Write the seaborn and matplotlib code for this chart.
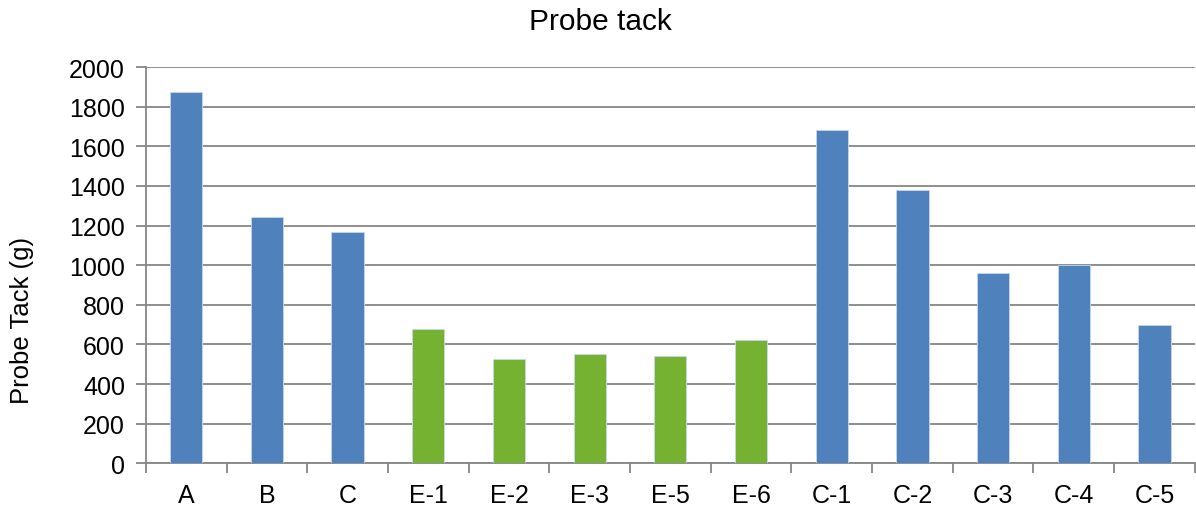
import matplotlib
matplotlib.use("Agg")
import matplotlib.pyplot as plt
import seaborn as sns
import pandas as pd
import numpy as np

categories = ["A", "B", "C", "E-1", "E-2", "E-3", "E-5", "E-6", "C-1", "C-2", "C-3", "C-4", "C-5"]
values = [1875, 1245, 1166, 677, 526, 552, 542, 622, 1680, 1379, 960, 1000, 698]
groups = ["base", "base", "base", "E", "E", "E", "E", "E", "base", "base", "base", "base", "base"]
palette = {"base": "#4F81BD", "E": "#75B232"}

df = pd.DataFrame({"cat": categories, "val": values, "grp": groups})

sns.set_theme(style="white")
plt.rcParams["font.family"] = ["Liberation Sans", "DejaVu Sans"]

fig = plt.figure(figsize=(11.96, 5.10), dpi=100)
ax = fig.add_axes([0.122, 0.0896, 0.877, 0.777])

sns.barplot(data=df, x="cat", y="val", hue="grp", palette=palette, dodge=False,
            saturation=1, width=0.4, legend=False, ax=ax,
            edgecolor="#C9D7EA", linewidth=0.6, zorder=3)

ax.set_ylim(0, 2000)
ax.set_xlim(-0.5, len(categories) - 0.5)
ax.set_yticks(np.arange(0, 2001, 200))
ax.yaxis.grid(True, color="#868686", linewidth=1.3, zorder=0)
ax.set_axisbelow(True)

for s in ["top", "right"]:
    ax.spines[s].set_visible(False)
for s in ["left", "bottom"]:
    ax.spines[s].set_color("#868686")
    ax.spines[s].set_linewidth(1.3)

ax.tick_params(axis="y", which="major", length=7, width=1.3, color="#868686",
               labelsize=18, pad=8, left=True, labelcolor="black")
ax.tick_params(axis="x", which="major", length=0, labelsize=18, pad=14, labelcolor="black")
ax.set_xticks(np.arange(-0.5, len(categories), 1.0), minor=True)
ax.tick_params(axis="x", which="minor", length=7, width=1.3, color="#868686", bottom=True)

ax.set_xlabel("")
ax.set_ylabel("")
fig.text(22 / 1196, 1 - 320 / 510, "Probe Tack (g)", rotation=90, fontsize=18.5,
         ha="center", va="center", color="black")
fig.text(600 / 1196, 1 - 22 / 510, "Probe tack", fontsize=21.5,
         ha="center", va="center", color="black")

fig.savefig("out.png", dpi=100)
